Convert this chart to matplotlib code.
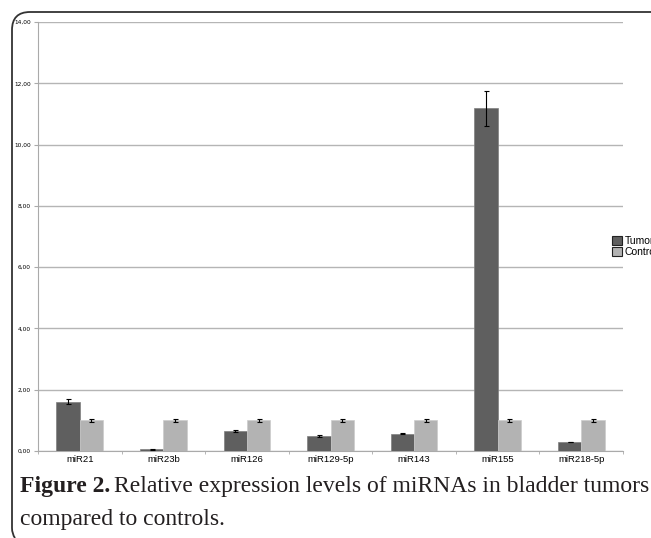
import numpy as np
import matplotlib
matplotlib.use("Agg")
import matplotlib.pyplot as plt
from matplotlib.path import Path
from matplotlib.patches import PathPatch, Patch

# === dane ===
mirnas = ["miR21", "miR23b", "miR126", "miR129-5p", "miR143", "miR155", "miR218-5p"]
tumor = [1.61, 0.05, 0.65, 0.49, 0.57, 11.18, 0.30]
tumor_err = [0.08, 0.01, 0.03, 0.02, 0.03, 0.56, 0.01]
control = [1.0, 1.0, 1.0, 1.0, 1.0, 1.0, 1.0]
control_err = [0.05, 0.05, 0.05, 0.05, 0.05, 0.05, 0.05]
y_ticks = [0, 2, 4, 6, 8, 10, 12, 14]

W, H = 651, 538
fig = plt.figure(figsize=(W / 100, H / 100), dpi=100)

# === ramka z zaokrąglonym rogiem ===
bg = fig.add_axes([0, 0, 1, 1])
bg.set_xlim(0, W)
bg.set_ylim(H, 0)
bg.axis("off")
verts = [(W + 5, 12), (30, 12), (12, 12), (12, 30), (12, 528), (12, 534), (15, 538)]
codes = [Path.MOVETO, Path.LINETO, Path.CURVE3, Path.CURVE3, Path.LINETO, Path.CURVE3, Path.CURVE3]
bg.add_patch(PathPatch(Path(verts, codes), fill=False, edgecolor="#333333", linewidth=1.3))

# === wykres ===
ax = fig.add_axes([38 / W, 1 - 451 / H, (623 - 38) / W, (451 - 22) / H])
x = np.arange(len(mirnas))
width = 0.28

err_kw = dict(ecolor="black", elinewidth=0.8, capsize=1.8, capthick=0.8)
ax.bar(x - width / 2, tumor, width, yerr=tumor_err, color="#5f5f5f",
       edgecolor="#808080", linewidth=0.5, error_kw=err_kw, label="Tumor", zorder=3)
ax.bar(x + width / 2, control, width, yerr=control_err, color="#b3b3b3",
       edgecolor="#cccccc", linewidth=0.5, error_kw=err_kw, label="Control", zorder=3)

ax.set_xlim(-0.5, len(mirnas) - 0.5)
ax.set_ylim(0, 14)
ax.set_yticks(y_ticks)
ax.set_yticklabels([f"{v:.2f}".replace(".", ",") for v in y_ticks], fontsize=4.2)
ax.set_xticks(x)
ax.set_xticklabels(mirnas, fontsize=6.8, fontfamily="Liberation Sans")
ax.set_xticks(np.arange(len(mirnas) + 1) - 0.5, minor=True)
ax.tick_params(axis="x", which="major", length=0, pad=3)
ax.tick_params(axis="x", which="minor", length=2, color="#aaaaaa")
ax.tick_params(axis="y", length=3, color="#aaaaaa", pad=2, width=0.8)

ax.yaxis.grid(True, color="#b5b5b5", linewidth=1)
ax.set_axisbelow(True)
for s in ["top", "right"]:
    ax.spines[s].set_visible(False)
ax.spines["left"].set_color("#aaaaaa")
ax.spines["bottom"].set_color("#aaaaaa")

handles = [Patch(facecolor="#5f5f5f", edgecolor="#222222", linewidth=0.8, label="Tumor"),
           Patch(facecolor="#b3b3b3", edgecolor="#222222", linewidth=0.8, label="Control")]
fig.legend(handles=handles, loc="upper left", bbox_to_anchor=(605 / W, 1 - 229 / H),
           frameon=False, handlelength=0.9, handleheight=0.9,
           handletextpad=0.3, labelspacing=0.1, borderpad=0.2,
           prop={"family": "Liberation Sans", "size": 7.5})

# === podpis ===
cap_color = "#231f20"
t_bold = fig.text(20 / W, 1 - 492 / H, "Figure 2.", fontsize=17, family="Liberation Serif",
                  weight="bold", ha="left", va="baseline", color=cap_color)
fig.canvas.draw()
bb = t_bold.get_window_extent()
fig.text(bb.x1 / W + 4 / W, 1 - 492 / H, "Relative expression levels of miRNAs in bladder tumors",
         fontsize=17, family="Liberation Serif", ha="left", va="baseline", color=cap_color)
fig.text(20 / W, 1 - 525 / H, "compared to controls.", fontsize=17,
         family="Liberation Serif", ha="left", va="baseline", color=cap_color)

plt.savefig("out.png", dpi=100)
